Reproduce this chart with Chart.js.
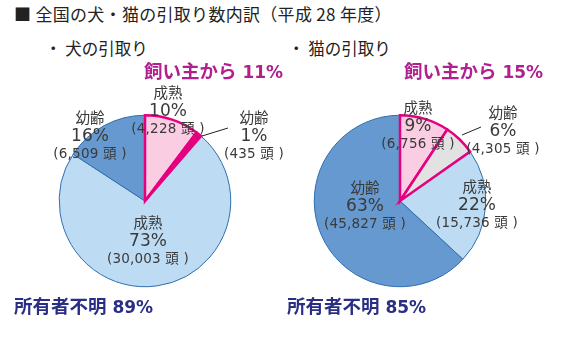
<!DOCTYPE html>
<html lang="ja">
<head>
<meta charset="UTF-8">
<title>全国の犬・猫の引取り数内訳</title>
<script src="https://cdn.jsdelivr.net/npm/chart.js"></script>
<style>
    body {
        margin: 0;
        background: #fff;
        font-family: "Noto Sans CJK JP", sans-serif;
        color: #222;
    }
    .page {
        position: relative;
        width: 566px;
        height: 341px;
        overflow: hidden;
    }
    .abs { position: absolute; white-space: nowrap; }
    .title { left: 14px; top: 3px; font-size: 17px; line-height: 22px; letter-spacing: 0.3px; }
    .sub { font-size: 16.5px; line-height: 20px; top: 38px; }
    .owner {
        font-family: "DejaVu Sans", "Noto Sans CJK JP", sans-serif;
        font-weight: bold; font-size: 17px; line-height: 22px;
        color: #b0208f; top: 59px;
    }
    .unknown {
        font-family: "DejaVu Sans", "Noto Sans CJK JP", sans-serif;
        font-weight: bold; font-size: 17px; line-height: 22px;
        color: #2b2f83; top: 294px;
    }
    .owner .jp, .unknown .jp { font-family: "Noto Sans CJK JP"; font-size: 18.5px; }
    .slice {
        text-align: center;
        color: #3a3a3a;
        transform: translateX(-50%);
        font-family: "DejaVu Sans", "Noto Sans CJK JP", sans-serif;
    }
    .slice div { height: 18px; line-height: 18px; }
    .slice .name { font-family: "Noto Sans CJK JP"; font-size: 14.5px; }
    .slice .pct { font-size: 17px; }
    .slice .cnt { font-size: 13.5px; letter-spacing: 0.2px; }
    canvas { position: absolute; }
    svg { position: absolute; left: 0; top: 0; }
</style>
</head>
<body>
<div class="page" id="page">
    <div class="abs title">■ 全国の犬・猫の引取り数内訳（平成 28 年度）</div>
    <div class="abs sub" style="left:45px">・ 犬の引取り</div>
    <div class="abs sub" style="left:288px">・ 猫の引取り</div>
    <canvas id="dogChart" width="176" height="176" style="left:57px; top:113px"></canvas>
    <canvas id="catChart" width="176" height="176" style="left:312px; top:113px"></canvas>
    <svg width="566" height="341">
        <line x1="202" y1="136" x2="228" y2="128" stroke="#222" stroke-width="1"/>
        <line x1="462" y1="135" x2="481" y2="127" stroke="#222" stroke-width="1"/>
    </svg>
</div>

<script>
    // slices listed clockwise from 12 o'clock
    const sliceNames = ['成熟', '幼齢', '成熟', '幼齢'];
    const dogCounts = [4228, 435, 30003, 6509];
    const dogPercents = [10, 1, 73, 16];
    const catCounts = [6756, 4305, 15736, 45827];
    const catPercents = [9, 6, 22, 63];
    const ownerPercents = [11, 15];    // 飼い主から (dog, cat)
    const unknownPercents = [89, 85];  // 所有者不明 (dog, cat)

    const dogFills = ['#fbcde2', '#e4007f', '#bddcf4', '#6699cf'];
    const catFills = ['#fbcde2', '#e2e2e2', '#bddcf4', '#6699cf'];
    const edgeColors = ['#e4007f', '#e4007f', '#2f6fae', '#2f6fae'];
    const edgeWidths = [2.5, 2.5, 1, 1];

    // label anchor per slice: [centre x, middle of first line]
    const dogLabelPos = [[168, 92], [254, 117], [148, 222], [90, 117]];
    const catLabelPos = [[418, 107], [503, 112], [477, 186], [365, 187]];
    const ownerLeft = [144, 404];
    const unknownLeft = [14, 287];

    const page = document.getElementById('page');

    function fmt(n) {
        return n.toLocaleString('en-US');
    }

    function addSliceLabels(percents, counts, positions) {
        percents.forEach((p, i) => {
            const el = document.createElement('div');
            el.className = 'abs slice';
            el.style.left = positions[i][0] + 'px';
            el.style.top = (positions[i][1] - 9) + 'px';
            el.innerHTML = '<div class="name">' + sliceNames[i] + '</div>' +
                '<div class="pct">' + p + '%</div>' +
                '<div class="cnt">(' + fmt(counts[i]) + ' 頭 )</div>';
            page.appendChild(el);
        });
    }

    function addSummary(cls, text, pct, left) {
        const el = document.createElement('div');
        el.className = 'abs ' + cls;
        el.style.left = left + 'px';
        el.innerHTML = '<span class="jp">' + text + '</span> ' + pct + '%';
        page.appendChild(el);
    }

    function drawPie(id, counts, fills) {
        // the two pink slices go last so their magenta edges sit on top
        const order = [2, 3, 0, 1];
        const total = counts.reduce((a, b) => a + b, 0);
        const lead = counts[2] + counts[3];
        new Chart(document.getElementById(id), {
            type: 'pie',
            data: {
                labels: order.map(i => sliceNames[i]),
                datasets: [{
                    data: order.map(i => counts[i]),
                    backgroundColor: order.map(i => fills[i]),
                    borderColor: order.map(i => edgeColors[i]),
                    borderWidth: order.map(i => edgeWidths[i]),
                    borderJoinStyle: 'miter'
                }]
            },
            options: {
                responsive: false,
                animation: false,
                rotation: -lead / total * 360,
                layout: { padding: 1 },
                plugins: {
                    legend: { display: false },
                    tooltip: { enabled: false }
                }
            }
        });
    }

    drawPie('dogChart', dogCounts, dogFills);
    drawPie('catChart', catCounts, catFills);
    addSliceLabels(dogPercents, dogCounts, dogLabelPos);
    addSliceLabels(catPercents, catCounts, catLabelPos);
    for (let k = 0; k < 2; k++) {
        addSummary('owner', '飼い主から', ownerPercents[k], ownerLeft[k]);
        addSummary('unknown', '所有者不明', unknownPercents[k], unknownLeft[k]);
    }
</script>
</body>
</html>
